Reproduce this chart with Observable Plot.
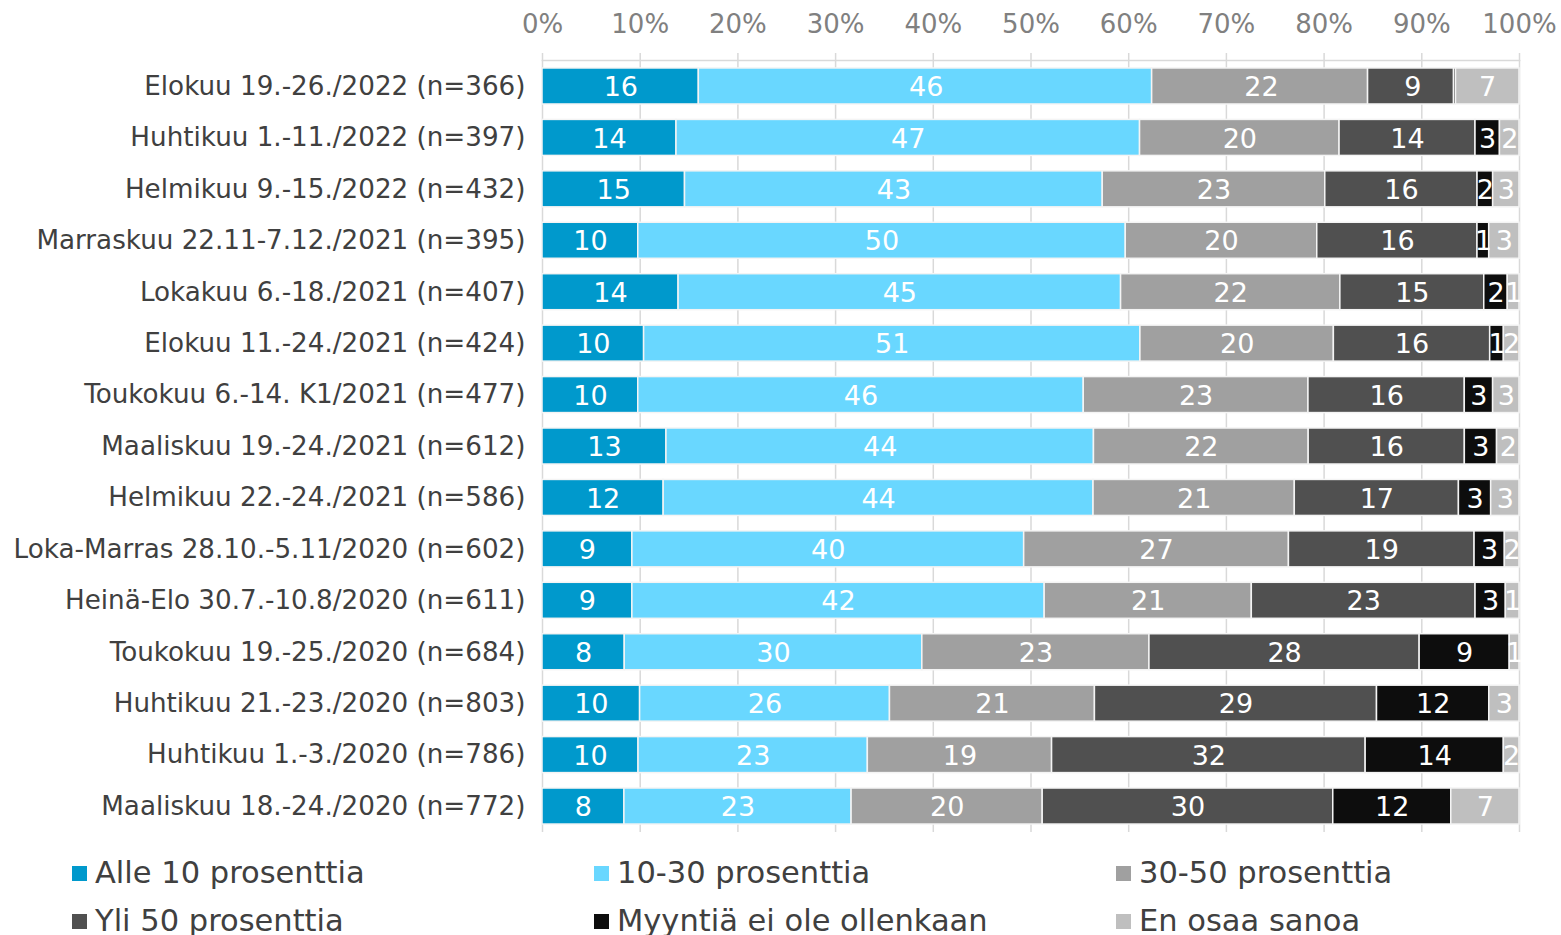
<!DOCTYPE html>
<html>
<head>
<meta charset="utf-8">
<script src="https://cdn.jsdelivr.net/npm/d3@7"></script>
<script src="https://cdn.jsdelivr.net/npm/@observablehq/plot@0.6"></script>
<style>
  html, body { margin: 0; padding: 0; background: #fff; }
  body { width: 1561px; height: 935px; overflow: hidden; font-family: "DejaVu Sans", Verdana, sans-serif; }
  #chart svg { display: block; }
  .legend { position: absolute; left: 0; top: 858px; width: 1561px; }
  .legend .item { position: absolute; font-size: 30.5px; color: #404040; white-space: nowrap; line-height: 1; display: flex; align-items: center; }
  .legend .sw { width: 15px; height: 15px; margin-right: 8px; display: inline-block; }
</style>
</head>
<body>
<div id="chart"></div>
<div class="legend" id="legend"></div>
<script>
const categories = [
  "Elokuu 19.-26./2022 (n=366)",
  "Huhtikuu 1.-11./2022 (n=397)",
  "Helmikuu 9.-15./2022 (n=432)",
  "Marraskuu 22.11-7.12./2021 (n=395)",
  "Lokakuu 6.-18./2021 (n=407)",
  "Elokuu 11.-24./2021 (n=424)",
  "Toukokuu 6.-14. K1/2021 (n=477)",
  "Maaliskuu 19.-24./2021 (n=612)",
  "Helmikuu 22.-24./2021 (n=586)",
  "Loka-Marras 28.10.-5.11/2020 (n=602)",
  "Heinä-Elo 30.7.-10.8/2020 (n=611)",
  "Toukokuu 19.-25./2020 (n=684)",
  "Huhtikuu 21.-23./2020 (n=803)",
  "Huhtikuu 1.-3./2020 (n=786)",
  "Maaliskuu 18.-24./2020 (n=772)"
];
const seriesNames = ["Alle 10 prosenttia", "10-30 prosenttia", "30-50 prosenttia", "Yli 50 prosenttia", "Myyntiä ei ole ollenkaan", "En osaa sanoa"];
const colors = ["#0099cc", "#69d7ff", "#a0a0a0", "#505050", "#0d0d0d", "#bfbfbf"];

const alle10   = [16.0, 13.7, 14.6,  9.8, 13.9, 10.4,  9.8, 12.7, 12.4,  9.2,  9.2,  8.4, 10.0,  9.8,  8.4];
const p10to30  = [46.4, 47.4, 42.8, 49.9, 45.2, 50.8, 45.6, 43.8, 44.0, 40.1, 42.2, 30.4, 25.6, 23.4, 23.3];
const p30to50  = [22.1, 20.4, 22.8, 19.6, 22.4, 19.8, 23.0, 22.0, 20.6, 27.1, 21.2, 23.2, 21.0, 18.8, 19.6];
const yli50    = [ 8.8, 13.9, 15.6, 16.4, 14.7, 16.0, 16.0, 16.0, 16.8, 19.0, 22.9, 27.6, 28.9, 32.0, 29.8];
const eiMyyntia= [ 0.2,  2.5,  1.6,  1.2,  2.4,  1.4,  2.9,  3.3,  3.3,  3.1,  3.1,  9.2, 11.5, 14.1, 12.1];
const enOsaa   = [ 6.5,  2.0,  2.7,  3.1,  1.2,  1.6,  2.7,  2.3,  2.9,  1.5,  1.4,  1.0,  3.1,  1.6,  7.0];
const seriesValues = [alle10, p10to30, p30to50, yli50, eiMyyntia, enOsaa];
const xTicks = [0, 0.1, 0.2, 0.3, 0.4, 0.5, 0.6, 0.7, 0.8, 0.9, 1];

const data = [];
categories.forEach((c, i) => {
  seriesNames.forEach((s, j) => {
    data.push({category: c, series: s, value: seriesValues[j][i]});
  });
});
const labelData = data.filter(d => Math.round(d.value) >= 1);

const font = "DejaVu Sans, Verdana, sans-serif";

const chart = Plot.plot({
  width: 1561,
  height: 834,
  marginLeft: 542,
  marginRight: 42,
  marginTop: 60,
  marginBottom: 2,
  style: {fontFamily: font, fontSize: "26px", background: "white"},
  x: {domain: [0, 1], axis: null},
  y: {domain: categories, paddingInner: 0.3, paddingOuter: 0.155, round: false, axis: null},
  color: {domain: seriesNames, range: colors},
  marks: [
    Plot.gridX(xTicks, {stroke: "#d9d9d9", strokeOpacity: 1, strokeWidth: 1.5}),
    Plot.axisX(xTicks, {anchor: "top", tickSize: 8, tickPadding: 20, stroke: "#d9d9d9", strokeWidth: 1.5, fill: "#808080", fontSize: 26, tickFormat: d => Math.round(d * 100) + "%", label: null}),
    Plot.frame({anchor: "top", stroke: "#d9d9d9", strokeWidth: 1.5}),
    Plot.barX(data, Plot.stackX({x: "value", y: "category", fill: "series", order: seriesNames, offset: "normalize", stroke: "#f4f4f4", strokeWidth: 1.5})),
    Plot.text(labelData, Plot.stackX({x: "value", y: "category", z: "series", order: seriesNames, offset: "normalize", text: d => Math.round(d.value), fill: "white", fontSize: 27, dy: 1})),
    Plot.axisY({anchor: "left", tickSize: 0, tickPadding: 17, fill: "#404040", fontSize: 26.2, label: null})
  ]
});
document.getElementById("chart").appendChild(chart);

const legend = document.getElementById("legend");
const colX = [72, 594, 1116];
const rowY = [0, 48];
seriesNames.forEach((s, j) => {
  const item = document.createElement("div");
  item.className = "item";
  item.style.left = colX[j % 3] + "px";
  item.style.top = rowY[Math.floor(j / 3)] + "px";
  const sw = document.createElement("span");
  sw.className = "sw";
  sw.style.background = colors[j];
  item.appendChild(sw);
  item.appendChild(document.createTextNode(s));
  legend.appendChild(item);
});
</script>
</body>
</html>
